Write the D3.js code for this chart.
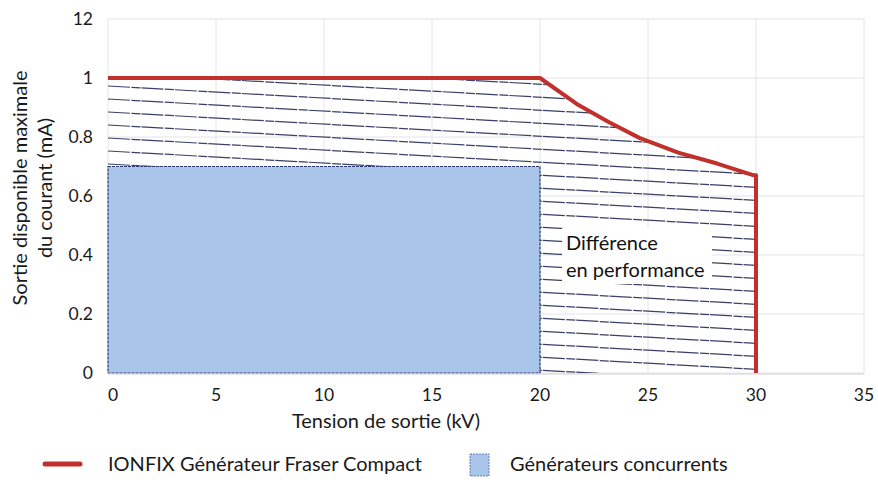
<!DOCTYPE html>
<html><head><meta charset="utf-8">
<script src="https://cdn.jsdelivr.net/npm/d3@7"></script>
<style>body{margin:0;background:#fff}svg{font-family:Lato,"Open Sans",sans-serif}</style>
</head><body><svg id="c" width="878" height="484"></svg>
<script>
// Data
const xTicks = [0,5,10,15,20,25,30,35];
const yTicks = [0,0.2,0.4,0.6,0.8,1,1.2];
const yTickLabels = ["0","0.2","0.4","0.6","0.8","1","12"];
const ionfixX = [0,20,21.7,23.2,24.6,26.4,28.2,29.9,30,30];
const ionfixY = [1.0,1.0,0.912,0.85,0.797,0.747,0.71,0.67,0.67,0];
const competitorX = [0,20];
const competitorY = [0.7];
const seriesNames = ["IONFIX Générateur Fraser Compact","Générateurs concurrents"];
const annotation = ["Différence","en performance"];

const svg = d3.select("#c");
const x = d3.scaleLinear().domain([0,35]).range([108,864]);
const y = d3.scaleLinear().domain([0,1.2]).range([373,19]);
const FS = 20;

// grid
const g = svg.append("g");
g.selectAll(".vg").data(xTicks).join("line")
  .attr("x1",d=>x(d)).attr("x2",d=>x(d)).attr("y1",y(0)).attr("y2",y(1.2))
  .attr("stroke","#e4e4e8").attr("stroke-width",1);
g.selectAll(".hg").data(yTicks).join("line")
  .attr("x1",x(0)).attr("x2",x(35)).attr("y1",d=>y(d)).attr("y2",d=>y(d))
  .attr("stroke","#e4e4e8").attr("stroke-width",1);

// hatch region clip (area under red line)
const pts = ionfixX.map((v,i)=>[v,ionfixY[i]]);
const poly = [[0,0]].concat(pts);
const defs = svg.append("defs");
defs.append("clipPath").attr("id","hclip").append("path")
  .attr("d", d3.line().x(d=>x(d[0])).y(d=>y(d[1]))(poly)+"Z");

const hatch = svg.append("g").attr("clip-path","url(#hclip)");
const slope = 0.056;
const lines = d3.range(-52, 400, 13);
hatch.selectAll("line").data(lines).join("line")
  .attr("x1",x(0)).attr("x2",x(35))
  .attr("y1",d=>y(1.0)+8+d).attr("y2",d=>y(1.0)+8+d+slope*(x(35)-x(0)))
  .attr("stroke","#262c58").attr("stroke-width",1.2).attr("stroke-dasharray","22 1.5 9 1")
  .attr("opacity",0.9);

// white bg behind annotation
svg.append("rect").attr("x",562).attr("y",228).attr("width",150).attr("height",56).attr("fill","#fff");

// competitor rect
svg.append("rect")
  .attr("x",x(competitorX[0])).attr("y",y(competitorY[0]))
  .attr("width",x(competitorX[1])-x(competitorX[0])).attr("height",y(0)-y(competitorY[0]))
  .attr("fill","#aac5ea").attr("stroke","#2b3a6e").attr("stroke-width",1.2).attr("stroke-dasharray","3 1");

// bottom axis line
svg.append("line").attr("x1",x(0)).attr("x2",x(35)).attr("y1",y(0)+1).attr("y2",y(0)+1)
  .attr("stroke","#d0d0d4");

// red line
svg.append("path").datum(pts)
  .attr("d",d3.line().x(d=>x(d[0])).y(d=>y(d[1])))
  .attr("fill","none").attr("stroke","#c1302a").attr("stroke-width",4).attr("stroke-linejoin","round");

// annotation
svg.append("text").attr("x",566).attr("y",250).attr("font-size",FS).attr("fill","#111").text(annotation[0]);
svg.append("text").attr("x",566).attr("y",277).attr("font-size",FS).attr("fill","#111").text(annotation[1]);

// ticks
svg.selectAll(".xt").data(xTicks).join("text")
  .attr("x",d=>x(d)+ (d===0?5:0)).attr("y",401).attr("text-anchor","middle")
  .attr("font-size",17.5).attr("fill","#1a1a1a").text(d=>d);
svg.selectAll(".yt").data(yTicks).join("text")
  .attr("x",93).attr("y",d=>y(d)+6).attr("text-anchor","end")
  .attr("font-size",17.5).attr("fill","#1a1a1a").text((d,i)=>yTickLabels[i]);

// axis titles
svg.append("text").attr("x",386).attr("y",428).attr("text-anchor","middle")
  .attr("font-size",FS).attr("fill","#1a1a1a").text("Tension de sortie (kV)");
const yt = svg.append("text").attr("transform","translate(27,188) rotate(-90)")
  .attr("text-anchor","middle").attr("font-size",FS).attr("fill","#1a1a1a");
yt.append("tspan").attr("x",0).attr("dy",0).text("Sortie disponible maximale");
yt.append("tspan").attr("x",0).attr("dy",25).text("du courant (mA)");

// legend
svg.append("line").attr("x1",45).attr("x2",80).attr("y1",464).attr("y2",464)
  .attr("stroke","#c1302a").attr("stroke-width",5).attr("stroke-linecap","round");
svg.append("text").attr("x",108).attr("y",471).attr("font-size",FS).attr("fill","#1a1a1a").text(seriesNames[0]);
svg.append("rect").attr("x",470).attr("y",454).attr("width",19).attr("height",22)
  .attr("fill","#aac5ea").attr("stroke","#6a7fb0").attr("stroke-width",1).attr("stroke-dasharray","2 1");
svg.append("text").attr("x",510).attr("y",471).attr("font-size",FS).attr("fill","#1a1a1a").text(seriesNames[1]);
</script></body></html>
